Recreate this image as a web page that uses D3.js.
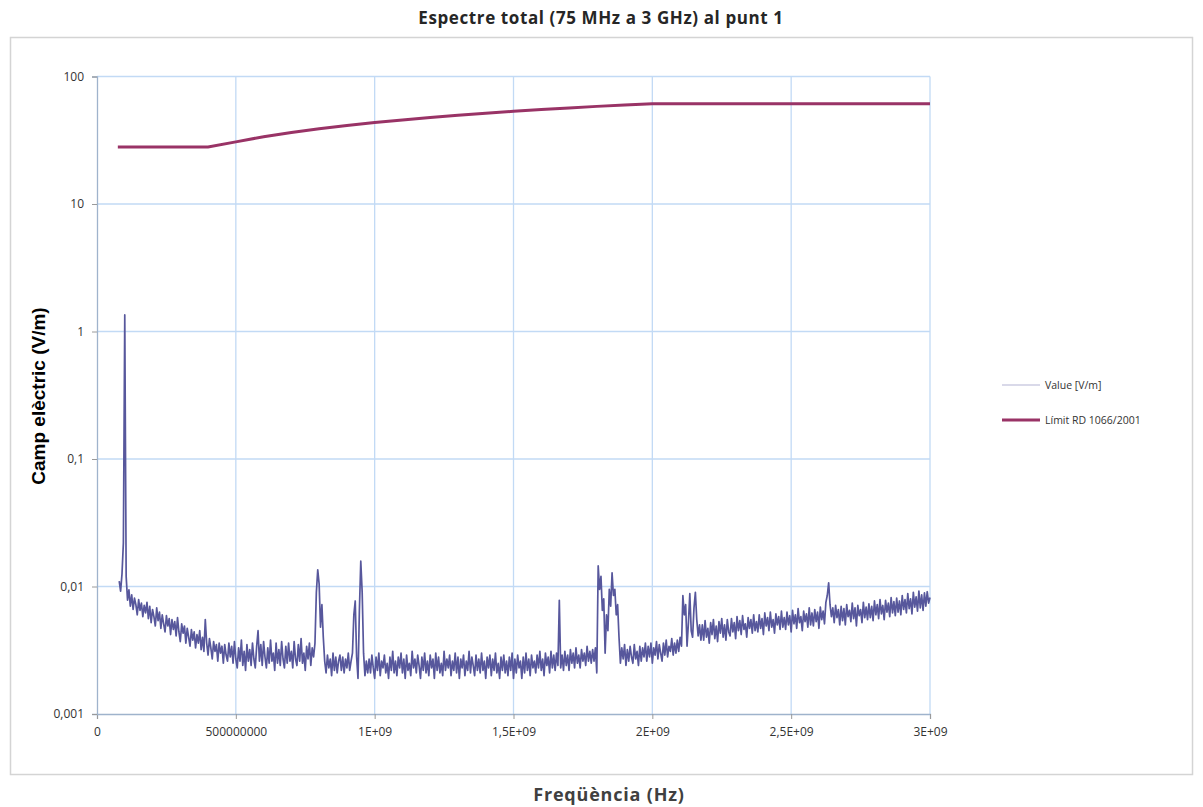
<!DOCTYPE html>
<html lang="ca">
<head>
    <meta charset="UTF-8">
    <title>Espectre total</title>
    <script src="https://d3js.org/d3.v7.min.js"></script>
    <style>
        body { margin: 0; background: #fff; }
    </style>
</head>
<body>
<svg id="chart"></svg>

<script>
    // Eix X: ticks i etiquetes (Hz)
    let xTicks = [0, 5e8, 1e9, 1.5e9, 2e9, 2.5e9, 3e9];
    let xTickLabels = ["0", "500000000", "1E+09", "1,5E+09", "2E+09", "2,5E+09", "3E+09"];

    // Eix Y logaritmic (V/m)
    let yTicks = [0.001, 0.01, 0.1, 1, 10, 100];
    let yTickLabels = ["0,001", "0,01", "0,1", "1", "10", "100"];

    // Escombrat mesurat: primera freq. i pas (MHz)
    let sweepStartMHz = 80;
    let sweepStepMHz = 5;

    // Value [V/m] - un valor cada 5 MHz, 20 valors per linia (llegit del grafic)
    let measured = [
        0.0110, 0.0092, 0.0125, 0.022, 1.35, 0.0120, 0.0078, 0.0094, 0.0070, 0.0086, 0.0066, 0.0081, 0.0072, 0.0060, 0.0079, 0.0065, 0.0074, 0.0058, 0.0071, 0.0062, // 80
        0.0075, 0.0056, 0.0070, 0.0052, 0.0066, 0.0058, 0.0049, 0.0068, 0.0054, 0.0063, 0.0047, 0.0060, 0.0051, 0.0044, 0.0059, 0.0049, 0.0056, 0.0042, 0.0055, 0.0046, // 180
        0.0053, 0.0041, 0.0057, 0.0044, 0.0037, 0.0051, 0.0043, 0.0049, 0.0036, 0.0047, 0.0040, 0.0034, 0.0046, 0.0038, 0.0044, 0.0033, 0.0042, 0.0036, 0.0045, 0.0032, // 280
        0.0040, 0.0031, 0.0055, 0.0036, 0.0029, 0.0039, 0.0033, 0.0027, 0.0037, 0.0031, 0.0035, 0.0026, 0.0036, 0.0030, 0.0034, 0.0025, 0.0035, 0.0029, 0.0026, 0.0036, // 380
        0.0028, 0.0034, 0.0025, 0.0037, 0.0027, 0.0023, 0.0033, 0.0026, 0.0038, 0.0024, 0.0031, 0.0022, 0.0035, 0.0026, 0.0032, 0.0024, 0.0036, 0.0027, 0.0023, 0.0034, // 480
        0.0045, 0.0026, 0.0035, 0.0024, 0.0037, 0.0028, 0.0023, 0.0033, 0.0025, 0.0038, 0.0026, 0.0030, 0.0022, 0.0036, 0.0025, 0.0032, 0.0024, 0.0037, 0.0027, 0.0023, // 580
        0.0034, 0.0025, 0.0036, 0.0026, 0.0031, 0.0023, 0.0037, 0.0027, 0.0024, 0.0035, 0.0026, 0.0039, 0.0025, 0.0030, 0.0022, 0.0034, 0.0027, 0.0036, 0.0024, 0.0033, // 680
        0.0028, 0.0036, 0.0090, 0.0135, 0.0105, 0.0048, 0.0072, 0.0040, 0.0026, 0.0021, 0.0029, 0.0023, 0.0027, 0.0020, 0.0030, 0.0022, 0.0028, 0.0021, 0.0026, 0.0029, // 780
        0.0022, 0.0028, 0.0021, 0.0027, 0.0023, 0.0030, 0.0022, 0.0026, 0.0030, 0.0060, 0.0077, 0.0028, 0.0019, 0.0065, 0.0158, 0.0090, 0.0030, 0.0020, 0.0026, 0.0021, // 880
        0.0027, 0.0021, 0.0029, 0.0023, 0.0019, 0.0028, 0.0022, 0.0030, 0.0020, 0.0026, 0.0023, 0.0029, 0.0021, 0.0025, 0.0019, 0.0028, 0.0022, 0.0031, 0.0021, 0.0026, // 980
        0.0020, 0.0028, 0.0023, 0.0030, 0.0021, 0.0027, 0.0019, 0.0029, 0.0022, 0.0025, 0.0020, 0.0031, 0.0023, 0.0027, 0.0021, 0.0029, 0.0024, 0.0019, 0.0028, 0.0022, // 1080
        0.0030, 0.0021, 0.0026, 0.0020, 0.0029, 0.0023, 0.0027, 0.0019, 0.0030, 0.0022, 0.0028, 0.0021, 0.0025, 0.0020, 0.0031, 0.0022, 0.0027, 0.0023, 0.0029, 0.0020, // 1180
        0.0026, 0.0022, 0.0030, 0.0021, 0.0028, 0.0019, 0.0027, 0.0023, 0.0029, 0.0020, 0.0026, 0.0022, 0.0031, 0.0021, 0.0028, 0.0024, 0.0020, 0.0029, 0.0022, 0.0027, // 1280
        0.0021, 0.0030, 0.0022, 0.0026, 0.0019, 0.0028, 0.0023, 0.0029, 0.0020, 0.0027, 0.0022, 0.0030, 0.0021, 0.0025, 0.0019, 0.0028, 0.0022, 0.0029, 0.0021, 0.0026, // 1380
        0.0020, 0.0028, 0.0022, 0.0030, 0.0019, 0.0027, 0.0021, 0.0029, 0.0023, 0.0026, 0.0019, 0.0028, 0.0021, 0.0030, 0.0022, 0.0027, 0.0020, 0.0029, 0.0023, 0.0026, // 1480
        0.0021, 0.0029, 0.0023, 0.0031, 0.0022, 0.0027, 0.0020, 0.0030, 0.0024, 0.0028, 0.0021, 0.0031, 0.0023, 0.0029, 0.0022, 0.0030, 0.0024, 0.0078, 0.0023, 0.0029, // 1580
        0.0022, 0.0031, 0.0024, 0.0029, 0.0022, 0.0032, 0.0025, 0.0030, 0.0023, 0.0033, 0.0025, 0.0029, 0.0023, 0.0032, 0.0026, 0.0030, 0.0024, 0.0034, 0.0026, 0.0031, // 1680
        0.0025, 0.0032, 0.0026, 0.0033, 0.0021, 0.0145, 0.0095, 0.0120, 0.0065, 0.0080, 0.0030, 0.0060, 0.0045, 0.0095, 0.0070, 0.0128, 0.0085, 0.0095, 0.0060, 0.0072, // 1780
        0.0040, 0.0025, 0.0033, 0.0027, 0.0035, 0.0024, 0.0032, 0.0026, 0.0034, 0.0028, 0.0025, 0.0035, 0.0027, 0.0031, 0.0024, 0.0034, 0.0026, 0.0033, 0.0028, 0.0036, // 1880
        0.0026, 0.0034, 0.0028, 0.0036, 0.0025, 0.0033, 0.0029, 0.0037, 0.0027, 0.0035, 0.0030, 0.0026, 0.0036, 0.0029, 0.0038, 0.0028, 0.0034, 0.0031, 0.0039, 0.0029, // 1980
        0.0036, 0.0030, 0.0038, 0.0031, 0.0040, 0.0034, 0.0085, 0.0060, 0.0072, 0.0034, 0.0052, 0.0088, 0.0045, 0.0040, 0.0068, 0.0090, 0.0055, 0.0041, 0.0050, 0.0038, // 2080
        0.0050, 0.0038, 0.0054, 0.0040, 0.0047, 0.0036, 0.0052, 0.0042, 0.0055, 0.0039, 0.0049, 0.0037, 0.0053, 0.0043, 0.0056, 0.0040, 0.0050, 0.0038, 0.0055, 0.0044, // 2180
        0.0041, 0.0056, 0.0044, 0.0052, 0.0039, 0.0058, 0.0045, 0.0054, 0.0042, 0.0059, 0.0046, 0.0051, 0.0040, 0.0057, 0.0047, 0.0055, 0.0043, 0.0060, 0.0045, 0.0053, // 2280
        0.0044, 0.0060, 0.0047, 0.0056, 0.0042, 0.0062, 0.0049, 0.0057, 0.0045, 0.0063, 0.0048, 0.0055, 0.0043, 0.0061, 0.0050, 0.0058, 0.0046, 0.0064, 0.0048, 0.0057, // 2380
        0.0046, 0.0063, 0.0050, 0.0059, 0.0044, 0.0065, 0.0051, 0.0060, 0.0047, 0.0067, 0.0052, 0.0058, 0.0045, 0.0064, 0.0053, 0.0061, 0.0048, 0.0068, 0.0050, 0.0062, // 2480
        0.0049, 0.0066, 0.0053, 0.0063, 0.0047, 0.0069, 0.0055, 0.0064, 0.0051, 0.0075, 0.0085, 0.0107, 0.0072, 0.0058, 0.0068, 0.0052, 0.0071, 0.0057, 0.0066, 0.0050, // 2580
        0.0070, 0.0054, 0.0067, 0.0050, 0.0072, 0.0058, 0.0065, 0.0053, 0.0074, 0.0056, 0.0068, 0.0049, 0.0071, 0.0059, 0.0066, 0.0052, 0.0075, 0.0057, 0.0069, 0.0055, // 2680
        0.0073, 0.0057, 0.0070, 0.0054, 0.0077, 0.0060, 0.0072, 0.0056, 0.0079, 0.0061, 0.0071, 0.0055, 0.0078, 0.0063, 0.0074, 0.0058, 0.0082, 0.0062, 0.0076, 0.0059, // 2780
        0.0081, 0.0063, 0.0077, 0.0060, 0.0085, 0.0066, 0.0079, 0.0062, 0.0088, 0.0067, 0.0080, 0.0061, 0.0090, 0.0069, 0.0083, 0.0064, 0.0092, 0.0068, 0.0086, 0.0065, // 2880
        0.0089, 0.0070, 0.0091, 0.0074, 0.0082                                                                                                                  // 2980
    ];

    // Límit RD 1066/2001 (MHz, V/m)
    let limitFreqMHz = [75, 400, 500, 600, 700, 800, 900, 1000, 1100, 1200, 1300, 1400, 1500, 1600, 1700, 1800, 1900, 2000, 3000];
    let limitValues = [28, 28, 30.7, 33.7, 36.4, 38.9, 41.3, 43.5, 45.6, 47.6, 49.6, 51.4, 53.3, 55, 56.7, 58.3, 59.9, 61, 61];

    let seriesNames = ["Value [V/m]", "Límit RD 1066/2001"];
    let seriesColours = ["#57579c", "#993366"];

    let width = 1203,
        height = 807;

    let svg = d3.select("#chart")
        .attr("width", width)
        .attr("height", height)
        .style("font-family", "'Open Sans', sans-serif");

    // Marc exterior del grafic
    svg.append("rect")
        .attr("x", 10.5)
        .attr("y", 37.5)
        .attr("width", 1182)
        .attr("height", 737)
        .attr("fill", "none")
        .attr("stroke", "#d4d4d4")
        .attr("stroke-width", 1.5);

    // Escales
    let x = d3.scaleLinear()
        .domain([0, 3e9])
        .range([97, 930]);

    let y = d3.scaleLog()
        .domain([0.001, 100])
        .range([714, 76.5]);

    // Graella
    svg.append("g")
        .selectAll("line.vgrid")
        .data(xTicks.slice(1))
        .enter().append("line")
        .attr("x1", d => x(d))
        .attr("x2", d => x(d))
        .attr("y1", y(100))
        .attr("y2", y(0.001))
        .attr("stroke", "#c2daf5")
        .attr("stroke-width", 1.3);

    svg.append("g")
        .selectAll("line.hgrid")
        .data(yTicks.slice(1))
        .enter().append("line")
        .attr("x1", x(0))
        .attr("x2", x(3e9))
        .attr("y1", d => y(d))
        .attr("y2", d => y(d))
        .attr("stroke", "#c2daf5")
        .attr("stroke-width", 1.3);

    // Eixos
    let xAxis = svg.append("g")
        .attr("transform", "translate(0," + y(0.001) + ")")
        .call(d3.axisBottom(x)
            .tickValues(xTicks)
            .tickSize(5)
            .tickFormat((d, i) => xTickLabels[i]));

    let yAxis = svg.append("g")
        .attr("transform", "translate(" + x(0) + ",0)")
        .call(d3.axisLeft(y)
            .tickValues(yTicks)
            .tickSize(5)
            .tickFormat((d, i) => yTickLabels[i]));

    [xAxis, yAxis].forEach(function (ax) {
        ax.select(".domain").attr("stroke", "#9fb3cc").attr("stroke-width", 1.3);
        ax.selectAll(".tick line").attr("stroke", "#9a9a9a");
        ax.selectAll(".tick text")
            .attr("fill", "#333")
            .style("font-family", "'Open Sans', sans-serif")
            .style("font-size", "12px");
    });
    xAxis.selectAll(".tick text").attr("dy", "1.15em");
    yAxis.selectAll(".tick text").attr("x", -13);

    // Serie mesurada
    let measuredPts = measured.map(function (v, i) {
        return {f: (sweepStartMHz + i * sweepStepMHz) * 1e6, v: v};
    });

    let line = d3.line()
        .x(d => x(d.f))
        .y(d => y(d.v));

    svg.append("path")
        .datum(measuredPts)
        .attr("d", line)
        .attr("fill", "none")
        .attr("stroke", seriesColours[0])
        .attr("stroke-width", 1.7)
        .attr("stroke-linejoin", "round");

    // Límit
    let limitPts = limitFreqMHz.map(function (f, i) {
        return {f: f * 1e6, v: limitValues[i]};
    });

    svg.append("path")
        .datum(limitPts)
        .attr("d", line)
        .attr("fill", "none")
        .attr("stroke", seriesColours[1])
        .attr("stroke-width", 3);

    // Titols
    svg.append("text")
        .attr("x", 601)
        .attr("y", 24)
        .attr("text-anchor", "middle")
        .style("font-size", "17px")
        .style("font-weight", "bold")
        .style("letter-spacing", "0.6px")
        .attr("fill", "#262626")
        .text("Espectre total (75 MHz a 3 GHz) al punt 1");

    svg.append("text")
        .attr("x", 609)
        .attr("y", 801)
        .attr("text-anchor", "middle")
        .style("font-size", "18px")
        .style("font-weight", "bold")
        .style("letter-spacing", "0.8px")
        .attr("fill", "#404040")
        .text("Freqüència (Hz)");

    svg.append("text")
        .attr("transform", "translate(45,396) rotate(-90)")
        .attr("text-anchor", "middle")
        .style("font-family", "'Liberation Sans', Arial, sans-serif")
        .style("font-size", "19px")
        .style("font-weight", "bold")
        .attr("fill", "#000")
        .text("Camp elèctric (V/m)");

    // Llegenda
    let legend = svg.append("g");
    let legendY = [385, 420];

    legend.selectAll("line")
        .data(seriesNames)
        .enter().append("line")
        .attr("x1", 1002)
        .attr("x2", 1040)
        .attr("y1", (d, i) => legendY[i])
        .attr("y2", (d, i) => legendY[i])
        .attr("stroke", (d, i) => seriesColours[i])
        .attr("stroke-width", (d, i) => i === 0 ? 1 : 3)
        .attr("stroke-opacity", (d, i) => i === 0 ? 0.45 : 1);

    legend.selectAll("text")
        .data(seriesNames)
        .enter().append("text")
        .attr("x", 1045)
        .attr("y", (d, i) => legendY[i])
        .attr("dy", "0.35em")
        .style("font-size", "10.5px")
        .attr("fill", "#333")
        .text(d => d);
</script>
</body>
</html>
